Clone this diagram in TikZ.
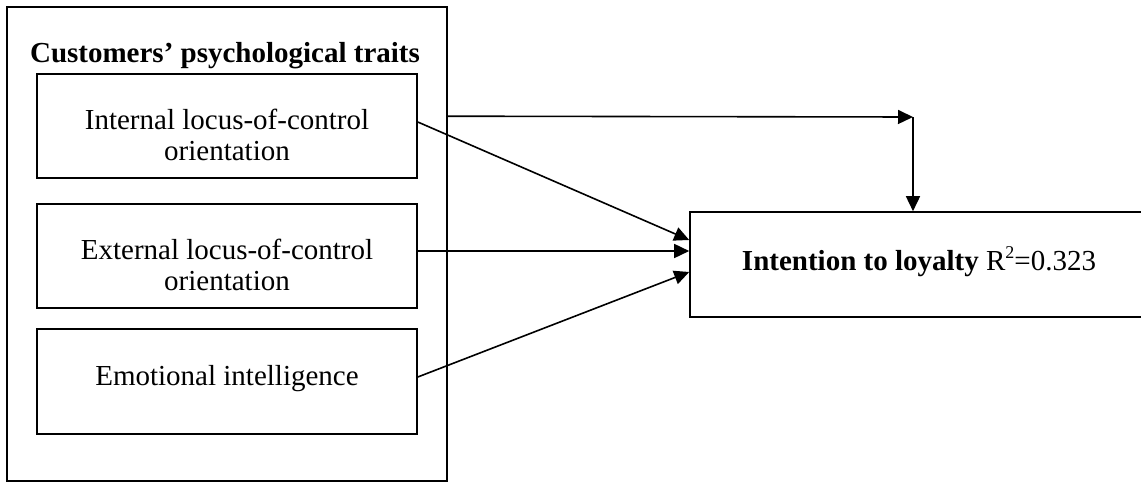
\documentclass[tikz,border=0pt]{standalone}
\usepackage{fontspec}
\setmainfont{Liberation Serif}
\usetikzlibrary{arrows.meta}
\begin{document}
\begin{tikzpicture}[x=1pt,y=-1pt,
  box/.style={draw,line width=1.6pt,rectangle,inner sep=0pt},
  txt/.style={inner sep=0pt,anchor=north,align=center,font=\fontsize{29}{31}\selectfont},
  conn/.style={line width=1.6pt,-{Triangle[length=15pt,width=14pt]}}]
\useasboundingbox (0,0) rectangle (1141,482);
% outer group box
\node[box,minimum width=440pt,minimum height=474pt] (outer) at (227,244) {};
\node[txt,font=\fontsize{29}{31}\selectfont\bfseries] (title) at (225,42) {Customers’ psychological traits};
% inner boxes
\node[box,minimum width=380pt,minimum height=104pt] (b1) at (227,126) {};
\node[box,minimum width=380pt,minimum height=104pt] (b2) at (227,256) {};
\node[box,minimum width=380pt,minimum height=105pt] (b3) at (227,381.5) {};
\node[txt] (t1) at (227,109) {Internal locus-of-control\\orientation};
\node[txt] (t2) at (227,239) {External locus-of-control\\orientation};
\node[txt] (t3) at (227,365) {Emotional intelligence};
% outcome box (extends beyond right edge)
\node[box,minimum width=453pt,minimum height=105pt] (lo) at (916.5,264.5) {};
\node[txt] (tlo) at (919,246) {\textbf{Intention to loyalty} R\raisebox{0.42em}{\fontsize{18}{18}\selectfont 2}=0.323};
% connectors
\coordinate (corner) at (913,117);
\draw[conn] ([yshift=4pt]b1.east) -- ([yshift=24.5pt]lo.west);
\draw[conn] ([yshift=5pt]b2.east) -- ([yshift=13.5pt]lo.west);
\draw[conn] ([yshift=4.5pt]b3.east) -- ([yshift=-7.5pt]lo.west);
\draw[conn] ([yshift=-110pt]outer.north east) -- (corner);
\draw[conn] (corner) -- (corner |- lo.north);
\end{tikzpicture}
\end{document}
